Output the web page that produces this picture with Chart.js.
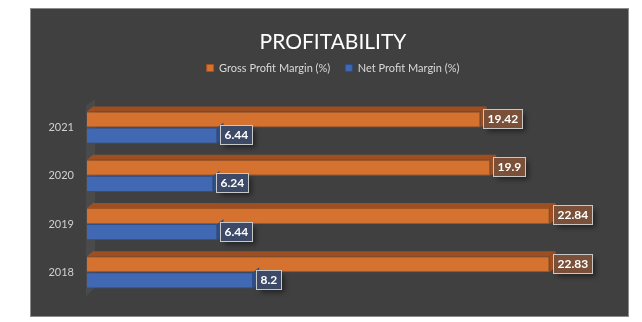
<!DOCTYPE html>
<html>
<head>
<meta charset="utf-8">
<script src="https://cdn.jsdelivr.net/npm/chart.js@4.4.0/dist/chart.umd.min.js"></script>
<style>
  html, body { margin: 0; background: #fff; }
  #panel {
    position: absolute; left: 30px; top: 8px;
    width: 597px; height: 307px;
    background: #404040; border: 1px solid #8c8c8c;
  }
</style>
</head>
<body>
<div id="panel"><canvas id="chart"></canvas></div>
<script>
// Years, top to bottom
const years = ['2021', '2020', '2019', '2018'];
const grossMargin = [19.42, 19.9, 22.84, 22.83];
const netMargin = [6.44, 6.24, 6.44, 8.2];

const orange = { face: '#d5722f', edge: '#a4531f', side: '#9e4f22', label: '#7a5039' };
const blue = { face: '#4169b3', edge: '#2c4f8c', side: '#2e4f8a', label: '#3c4a68' };

Chart.defaults.font.family = "Lato, 'Open Sans', sans-serif";

// Gray side wall behind the bars
const wallPlugin = {
    id: 'wall',
    beforeDatasetsDraw(chart) {
        const { ctx, chartArea: a } = chart;
        ctx.save();
        ctx.fillStyle = '#4a4a4a';
        ctx.beginPath();
        ctx.moveTo(a.left - 1, a.top + 2);
        ctx.lineTo(a.left + 8, a.top - 4);
        ctx.lineTo(a.left + 8, a.bottom - 9);
        ctx.lineTo(a.left - 1, a.bottom);
        ctx.closePath();
        ctx.fill();
        ctx.restore();
    }
};

// Top and right faces so the bars look extruded, then the value boxes
const depthPlugin = {
    id: 'depth',
    afterDatasetsDraw(chart) {
        const { ctx } = chart;
        const dx = 6, dy = 5;
        const styles = [orange, blue];
        ctx.save();
        chart.data.datasets.forEach((ds, di) => {
            const meta = chart.getDatasetMeta(di);
            const st = styles[di];
            meta.data.forEach(bar => {
                const { x, y, base, height } = bar.getProps(['x', 'y', 'base', 'height'], true);
                const top = y - height / 2, bottom = y + height / 2;
                ctx.fillStyle = st.side;
                if (di === 0) {
                    ctx.beginPath();
                    ctx.moveTo(base, top);
                    ctx.lineTo(base + dx, top - dy);
                    ctx.lineTo(x + dx, top - dy);
                    ctx.lineTo(x, top);
                    ctx.closePath();
                    ctx.fill();
                }
                ctx.beginPath();
                ctx.moveTo(x, top);
                ctx.lineTo(x + dx, top - dy);
                ctx.lineTo(x + dx, bottom - dy);
                ctx.lineTo(x, bottom);
                ctx.closePath();
                ctx.fill();
            });
        });

        ctx.font = "bold 12px Lato, 'Open Sans', sans-serif";
        ctx.textBaseline = 'middle';
        chart.data.datasets.forEach((ds, di) => {
            const meta = chart.getDatasetMeta(di);
            const st = styles[di];
            meta.data.forEach((bar, i) => {
                const { x, y } = bar.getProps(['x', 'y'], true);
                const text = String(ds.data[i]);
                const w = Math.round(ctx.measureText(text).width) + 8, h = 19;
                const bx = Math.round(x + 3) + 0.5, by = Math.round(y - h / 2) - 0.5;
                ctx.save();
                ctx.shadowColor = 'rgba(0,0,0,0.45)';
                ctx.shadowBlur = 5;
                ctx.shadowOffsetX = 3;
                ctx.shadowOffsetY = 3;
                ctx.fillStyle = st.label;
                ctx.fillRect(bx, by, w, h);
                ctx.restore();
                ctx.strokeStyle = '#c8c8c8';
                ctx.lineWidth = 1;
                ctx.strokeRect(bx, by, w, h);
                ctx.fillStyle = '#ffffff';
                ctx.fillText(text, bx + 4, by + h / 2 + 0.5);
            });
        });
        ctx.restore();
    }
};

new Chart(document.getElementById('chart'), {
    type: 'bar',
    data: {
        labels: years,
        datasets: [
            {
                label: 'Gross Profit Margin (%)',
                data: grossMargin,
                backgroundColor: orange.face,
                borderColor: orange.edge,
                borderWidth: 1
            },
            {
                label: 'Net Profit Margin (%)',
                data: netMargin,
                backgroundColor: blue.face,
                borderColor: blue.edge,
                borderWidth: 1
            }
        ]
    },
    options: {
        indexAxis: 'y',
        responsive: true,
        maintainAspectRatio: false,
        animation: false,
        categoryPercentage: 0.67,
        barPercentage: 1,
        layout: { padding: { left: 7, right: 0, top: 0, bottom: 16.5 } },
        plugins: {
            title: {
                display: true,
                text: 'PROFITABILITY',
                color: '#ffffff',
                font: { size: 21, weight: 'normal', lineHeight: 0.5 },
                padding: { top: 28, bottom: 0 }
            },
            legend: {
                display: true,
                labels: {
                    color: '#d9d9d9',
                    font: { size: 11 },
                    boxWidth: 7,
                    boxHeight: 7,
                    padding: 15
                }
            },
            tooltip: { enabled: false }
        },
        scales: {
            x: {
                position: 'top',
                min: 0,
                max: 26.7,
                grid: { display: false, drawTicks: false },
                border: { display: false },
                ticks: { display: false },
                afterFit(scale) { scale.height = 20; }
            },
            y: {
                grid: { display: false, drawTicks: false },
                border: { display: false },
                ticks: { color: '#d0d0d0', font: { size: 11 }, padding: 13 },
                afterFit(scale) { scale.width = 49; }
            }
        }
    },
    plugins: [wallPlugin, depthPlugin]
});
</script>
</body>
</html>
